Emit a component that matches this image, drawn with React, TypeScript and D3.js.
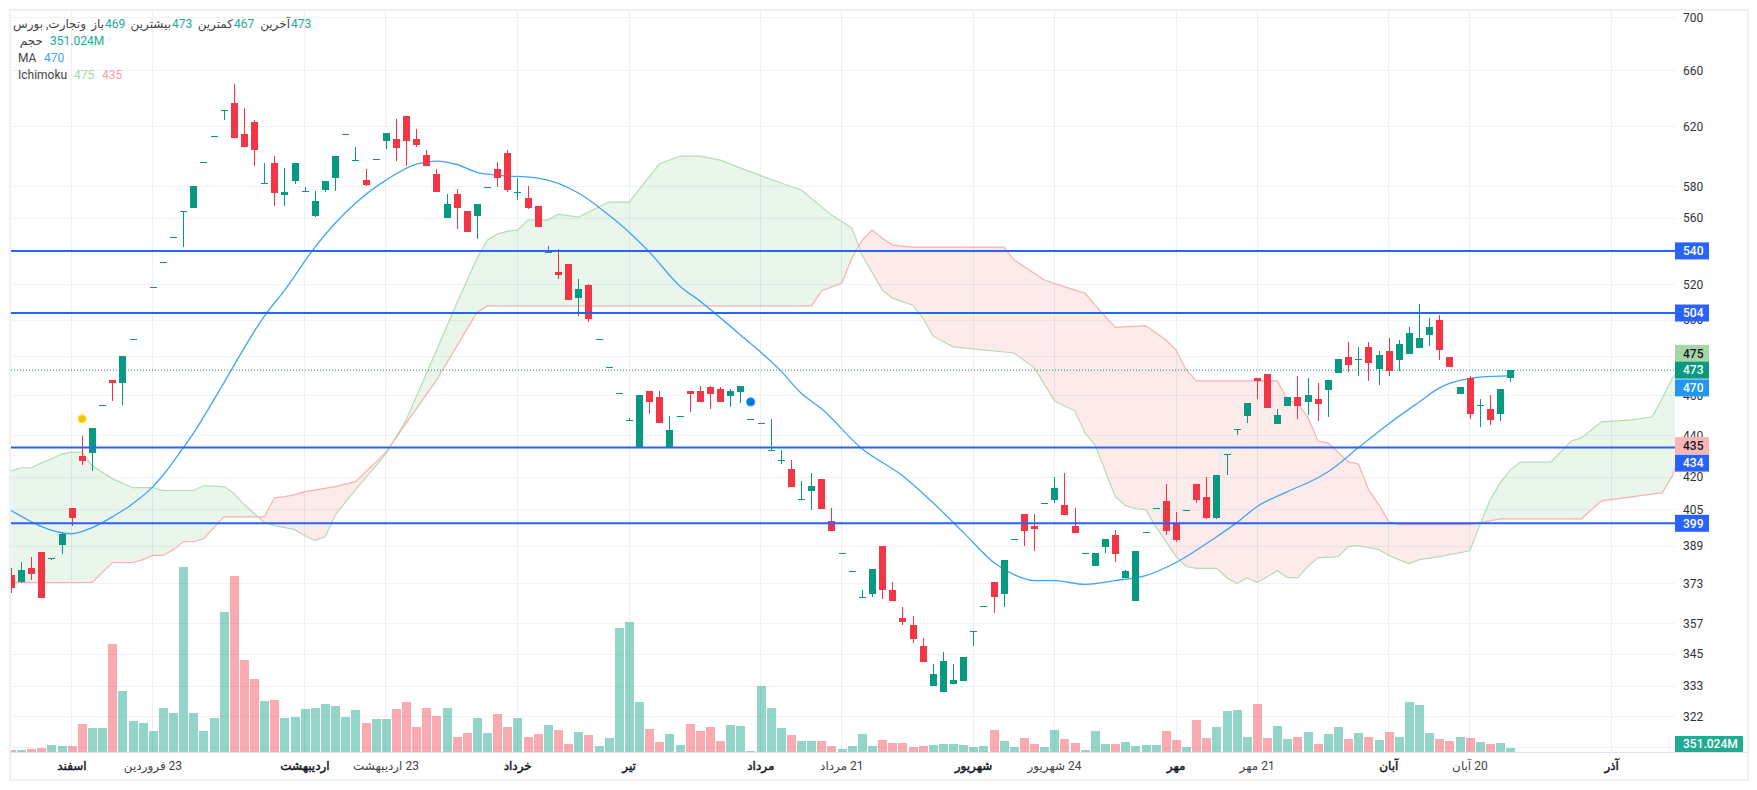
import React from 'react';
import * as d3 from 'd3';

const opens = [
  376.9,374,379.8,386.5,383.6,389.7,405.9,430,431.5,455,
  467.9,466.4,489.5,504,518.6,533.2,548.7,564.2,566.4,595.8,
  613.2,631.2,636.4,614.9,623,582.1,595.3,574.6,583.6,577.2,
  561.3,577.8,585.5,615.2,597.5,584.2,597.8,610.1,611.5,627.2,
  611.5,600.7,588.1,560,575.2,564.5,561.3,579.6,591.4,602,
  576.3,572.7,567.6,539.2,527.5,532.2,512.4,519.9,489.5,474.6,
  461,447.5,434.3,462.2,459.1,434.3,449.4,462.2,462.2,464.3,
  463.3,459.6,461.7,448,446,432.8,428,423.9,409.9,413.7,
  419.3,400.2,386,378.4,367.8,368.7,389.2,370.3,359.3,356.2,
  348,332.9,330.7,333.6,334.8,354,364.1,374,368.7,392.1,
  403.2,398,408.1,409.6,407.3,398,386,380.7,388.8,394,
  375.6,365.8,395.1,405.8,409.1,399.3,405,417,411,401.5,
  430.8,442.9,449.6,468.9,471,445.6,454.6,459.1,456.6,458.1,
  462.7,471.5,480,478.8,485.4,473.7,483.2,478.4,481.6,484.8,
  491.8,500.1,480,460.6,468.9,455,453.1,450.6,469,
];
const highs = [
  379.8,382.4,384.5,386.6,384,395.3,405.9,439.6,443.6,455,
  467.9,480.5,489.5,504,518.6,533.2,548.7,564.2,580.4,595.8,
  613.2,631.2,650,632.8,624.4,595.3,600,592,595.3,579.7,
  577.4,583.6,600,615.2,606,591.4,597.8,615.4,625.1,627.2,
  618.2,604,591.4,575.2,578.4,564.5,568.9,579.6,596,604,
  585.5,580.4,567.6,542.9,541.1,532.2,523.4,520.5,489.5,474.6,
  461,448.6,460.1,462.2,462.2,449.6,449.4,462.2,464.8,464.8,
  464.3,463.3,464.8,448,446,448.1,432.9,428.1,418.3,422,
  419.3,406,386,378.4,370.7,379.1,389.2,373.9,363.4,360.1,
  351.1,341.1,346,341.1,344.1,354,364.1,374,383.2,392.1,
  403.2,403.2,408.1,420.2,422.1,406,386,386.2,392.2,396.2,
  379,387,395.1,405.8,417,404.2,405,417,420.2,421,
  430.8,442.9,456.1,468.9,471,453.1,459.1,470,468.9,466.4,
  467.9,478.9,488,485.4,488,483.2,490.2,489.1,496.3,509,
  501.2,502.9,480,464.3,470,458.1,460.1,463.3,473,
];
const lows = [
  369.1,373.6,374.8,367.4,383.2,385.8,398,425.8,423,455,
  457.1,455.1,489.5,504,518.6,533.2,548.7,542.5,566.4,595.8,
  613.2,624.4,612.2,606,593.3,582.1,567.6,567.6,581.6,577.2,
  560.7,576.5,577.4,615.2,597.5,580.4,597.8,604.7,596.6,593.3,
  606,593.3,576.5,560,553.3,551.3,547.1,579.6,579.7,576.5,
  571.4,565.7,554.5,539.2,523.4,511.3,502.3,499,489.5,474.6,
  461,447.5,434.3,450.6,446.1,434.3,449.4,451.6,456.6,453.1,
  456.6,454.1,456.1,448,446,432.8,426.3,415.6,409.9,405.1,
  405.5,395.8,386,378.4,367.8,367.8,367,365.8,356.2,349.2,
  341.9,332.9,330.7,333.6,334.8,348,364.1,361.2,363.4,392.1,
  389.2,387,408.1,408.3,402.8,394.9,386,380.7,386.2,382,
  375.6,365.8,395.1,405.8,394,391,405,408.3,401,401,
  421,440.1,446.1,458.1,453.6,445.6,454.6,448.1,450.1,447.1,
  449.1,471.5,472,470,467.4,465.3,470,472.6,481.6,484.8,
  485.9,478.4,474.8,460.6,448.1,444.1,445.1,447.1,467,
];
const closes = [
  371.5,379,377.3,367.4,384,394.4,401.5,427.6,443.6,455,
  466.4,480.5,489.5,504,518.6,533.2,548.7,564.2,580.4,595.8,
  613.2,631.2,612.2,606,604,582.1,575.9,576.5,595.3,577.2,
  570.8,583.6,600,615.2,597.5,581,597.8,615.4,605.4,610.1,
  607.4,593.3,576.5,568.9,566.4,551.3,568.9,579.6,585.5,577.8,
  576.3,566.4,554.5,539.2,525.8,511.3,517.6,500.7,489.5,474.6,
  461,447.5,460.1,456.6,446.1,442.6,449.4,460.6,456.6,460.6,
  456.6,462.2,464.8,448,446,432.8,428,415.6,409.9,416,
  405.5,395.8,386,378.4,367.8,379.1,370.7,365.8,357.7,350.7,
  341.9,337.4,342.3,335.1,344.1,354,364.1,367.8,383.2,392.1,
  395.8,396.6,408.1,415.1,402.8,394.9,386,386.2,392.2,385.8,
  378.2,387,395.1,405.8,395.8,391.8,405,409.6,401.5,421,
  430.8,442.9,456.1,467.4,453.6,450.1,459.1,454.6,460.1,455.6,
  467.9,478.9,475.8,478.8,476.8,481.1,472.6,487,493,490.2,
  496.3,483.7,474.8,464.3,450.6,455,447.6,463.3,473,
];
// volume in millions
const volumes = [
  187,187,267,347,587,507,507,2267,1947,1947,
  8667,4907,2507,2347,1707,3547,3147,14827,3147,1707,
  2747,11227,14107,7387,5867,4107,4187,2747,2827,3467,
  3547,3867,3707,2827,3387,2347,2667,2667,3467,4027,
  2027,3547,2907,3547,1227,1547,2747,1547,3067,2027,
  2747,1227,1467,2187,1787,667,1627,1387,507,1147,
  9947,10427,4027,1867,827,1467,587,2267,1707,2027,
  907,2187,2107,107,5307,3547,1947,1387,907,907,
  907,507,267,507,1467,507,987,747,747,427,
  507,587,667,667,587,427,507,1787,907,427,
  1147,667,427,1787,1067,747,187,1707,667,667,
  827,507,587,587,1707,987,427,2587,1147,2027,
  3307,3387,1227,3867,1147,2107,1067,1227,1627,667,
  1467,2027,1067,1547,1227,987,1627,1227,4027,3787,
  1547,1067,907,1227,1147,827,667,747,351.024,
];

const maIndex = [0,2,3,6,8,10,12,14,15,17,18,20,21,25,27,30,32,34,37,40,42,44,46,48,52,56,59,61,63,66,68,72,76,78,80,84,88,91,94,97,99,101,103,106,109,112,115,119,121,123,126,129,130,133,136,139,141,143,145,148];
const maValues = [404.7,399.7,397.5,394.4,397.1,401.9,407.8,415.6,421,434,441,457.6,466.4,502.3,517,542.3,557,569.5,584.2,594.7,596.7,594.4,589.3,587.4,585.5,575.9,561.9,551.3,539.3,519.4,510.7,491.8,472.5,461,453.1,433.4,420.6,408.2,395,382,376.9,374.4,374.4,372.8,374.4,376.5,382,393.1,399.3,406.5,413.3,419.7,422.5,434,445.7,456.6,463.8,467.6,469.4,470];

const spanAIndex = [0,1,2,3,4,5,6,7,8,10,12,14,15,18,19,21,22,23,25,26,28,29,30,31,32,34,37,39,42,44,46,47,48,49,50,51,53,54,56,59,61,64,66,68,70,72,76,78,81,83,84,86,87,89,90,91,93,99,101,103,105,106,107,109,110,111,112,113,115,116,117,119,120,121,122,123,125,126,127,128,129,131,132,133,135,136,137,138,139,141,144,145,146,147,148,149,152,154,155,157,160,162,163,164,165];
const spanAValues = [422.9,424.4,424.4,426.7,428.6,430.9,431.8,431.8,425.3,419.3,415.1,415.1,413.8,413.8,416,415.6,412.4,407.4,399.3,398,396.2,393.5,391.4,393.1,402.8,414.2,431,447.6,483.7,509.6,535.8,546.5,550.2,552,552.6,558.8,558.8,562.5,560.7,570.1,570.1,594.7,600,600,597.3,592,582.3,577.8,561.9,553.9,537.5,517,512.4,508.4,501.2,491.2,485.4,482.1,474.2,457.1,452.1,441.1,435.3,411,406.9,405.6,405.1,397.5,384.5,380.3,379.5,379.5,375.6,373.2,375.6,373.6,378.5,375.6,375.6,380.3,384,384.5,388.8,389.2,387.5,385,383.2,381.5,383.2,384.5,387,398.4,409.6,417.4,423.4,427.1,427.1,437.2,438.7,446.6,447.6,449.1,458.6,468.9,475];
const spanBIndex = [0,8,10,12,13,14,15,16,17,18,19,21,25,26,27,28,29,32,34,37,42,46,47,79,80,81,82,83,84,85,86,87,89,98,99,102,105,106,107,109,112,114,115,116,117,125,126,127,128,129,130,132,133,134,135,136,137,144,147,155,157,163,164,165];
const spanBValues = [373.6,373.6,382,382,383.2,385,385,387.4,390.9,390.9,392.2,401.9,401.9,410.5,411,411.9,413.3,415.6,417.9,431.8,467.9,504.5,508,508,516.5,518.8,521.1,535.8,546.5,552.6,547.7,543.5,542.3,542.3,534.6,522.8,517,515.3,508.4,496,497,489.1,483.7,473.1,467.4,467.4,457.6,455.6,449.1,437.2,436.3,427.2,426.2,414.2,407.4,399.7,398.4,398.4,401,401,409.1,412.8,420.7,435];

const priceTicks = [700,660,620,580,560,540,520,500,480,460,440,420,405,389,373,357,345,333,322,311];
// these sit fully behind a tag in the reference
const hiddenLabels = [540,480,311];
const horizontalLevels = [540,504,434,399];
const lastPrice = 473;

const gridIndex = [6,14,29,37,50,61,74,82,95,103,115,123,136,144,158];
const monthIndex = [6,29,50,61,74,95,115,136,158];
const monthLabels = ['اسفند','اردیبهشت','خرداد','تیر','مرداد','شهریور','مهر','آبان','آذر'];
const dayIndex = [14,37,82,103,123,144];
const dayLabels = ['23 فروردین','23 اردیبهشت','21 مرداد','24 شهریور','21 مهر','20 آبان'];

const GREEN = '#089981';
const RED = '#f23645';
const BLUE = '#2962ff';
const MA_BLUE = '#42a5f5';
const VALUE_GREEN = '#22ab94';
const FONT = 'Roboto, "DejaVu Sans", sans-serif';

const plot = { left: 11, right: 1675, top: 11, bottom: 752 };

const x = d3.scaleLinear().domain([0, 148]).range([11.17, 1510.4]);
const y = d3.scaleLog().domain([700, 322]).range([17.3, 716.3]);
const vol = d3.scaleLinear().domain([0, 14827]).range([752, 566.7]);

const px = (i: number) => Math.round(x(i) - 0.2);

type Pt = [number, number];
const zip = (a: number[], b: number[]): Pt[] => a.map((v, i) => [v, b[i]]);
const maPts = zip(maIndex, maValues);
const spanA = zip(spanAIndex, spanAValues);
const spanB = zip(spanBIndex, spanBValues);

const line = d3.line<Pt>().x((d) => x(d[0])).y((d) => y(d[1]));
const smooth = d3.line<Pt>().x((d) => x(d[0])).y((d) => y(d[1])).curve(d3.curveMonotoneX);
const below = d3.area<Pt>().x((d) => x(d[0])).y0(plot.bottom).y1((d) => y(d[1]));
const above = d3.area<Pt>().x((d) => x(d[0])).y0(plot.top).y1((d) => y(d[1]));

const Tag = ({ value, text, fill, color, shift = 0 }: { value: number; text: string; fill: string; color: string; shift?: number }) => (
  <g>
    <rect x={1675} y={y(value) + shift - 8.5} width={34} height={17} fill={fill} />
    <text x={1683} y={y(value) + shift + 4.3} fill={color} fontSize={12} fontWeight={500}>{text}</text>
  </g>
);

export default function App() {
  return (
    <svg width={1757} height={790} viewBox="0 0 1757 790" fontFamily={FONT} style={{ position: 'absolute', left: 0, top: 0, display: 'block', background: '#fff' }}>
      <defs>
        <clipPath id="pane"><rect x={plot.left} y={plot.top} width={plot.right - plot.left} height={plot.bottom - plot.top} /></clipPath>
        <clipPath id="belowA"><path d={below(spanA) || ''} /></clipPath>
        <clipPath id="belowB"><path d={below(spanB) || ''} /></clipPath>
      </defs>

      {/* frame */}
      <rect x={10} y={10} width={1738} height={770} fill="none" stroke="#eff0f5" strokeWidth={2} />

      {/* grid */}
      <g stroke="#f0f2f5" strokeWidth={1} shapeRendering="crispEdges">
        {priceTicks.map((t) => <line key={t} x1={plot.left} x2={plot.right} y1={y(t)} y2={y(t)} />)}
        {gridIndex.map((i) => <line key={i} x1={x(i)} x2={x(i)} y1={plot.top} y2={plot.bottom} stroke="#eceef1" />)}
      </g>

      <g clipPath="url(#pane)">
        {/* volume */}
        <g shapeRendering="crispEdges">
          {volumes.map((v, i) => (
            <rect key={i} x={px(i) - 4} y={vol(v)} width={9} height={752 - vol(v)} fill={closes[i] >= opens[i] ? 'rgba(8,160,130,0.44)' : 'rgba(242,54,69,0.42)'} />
          ))}
        </g>

        {/* ichimoku cloud */}
        <g clipPath="url(#belowA)"><path d={above(spanB) || ''} fill="rgba(67,160,71,0.11)" /></g>
        <g clipPath="url(#belowB)"><path d={above(spanA) || ''} fill="rgba(239,83,80,0.12)" /></g>
        <path d={line(spanA) || ''} fill="none" stroke="#b5dcb6" strokeWidth={1.2} />
        <path d={line(spanB) || ''} fill="none" stroke="#f9b0b0" strokeWidth={1.2} />

        {/* moving average */}
        <path d={smooth(maPts) || ''} fill="none" stroke={MA_BLUE} strokeWidth={1.3} />

        {/* candles */}
        <g shapeRendering="crispEdges">
          {opens.map((o, i) => {
            const c = closes[i];
            const color = c >= o ? GREEN : RED;
            const top = Math.round(y(Math.max(o, c)));
            const bot = Math.round(y(Math.min(o, c)));
            const hi = Math.round(y(highs[i]));
            const lo = Math.round(y(lows[i]));
            return (
              <g key={i} fill={color}>
                <rect x={px(i)} y={hi} width={1} height={Math.max(lo - hi, 1)} />
                <rect x={px(i) - 3} y={top} width={7} height={Math.max(bot - top, 1)} />
              </g>
            );
          })}
        </g>

        {/* markers */}
        <circle cx={x(7)} cy={y(448.1)} r={4} fill="#f7c600" stroke="#ffe24d" strokeWidth={1.2} />
        <circle cx={x(73)} cy={y(456.6)} r={4} fill="#0077e6" stroke="#2a9df4" strokeWidth={1.2} />

        {/* price lines */}
        <line x1={plot.left} x2={plot.right} y1={y(lastPrice)} y2={y(lastPrice)} stroke={GREEN} strokeWidth={1} strokeDasharray="1 2" />
        {horizontalLevels.map((l) => (
          <line key={l} x1={plot.left} x2={plot.right} y1={y(l)} y2={y(l)} stroke={BLUE} strokeWidth={2} />
        ))}
      </g>

      {/* bottom line */}
      <line x1={10} x2={1748} y1={752.5} y2={752.5} stroke="#e0e3eb" strokeWidth={1.2} />

      {/* price axis */}
      <g fontSize={12} fill="#333">
        {priceTicks.filter((t) => !hiddenLabels.includes(t)).map((t) => <text key={t} x={1683} y={y(t) + 4.3}>{t}</text>)}
      </g>
      <Tag value={540} text="540" fill={BLUE} color="#fff" />
      <Tag value={504} text="504" fill={BLUE} color="#fff" />
      <Tag value={475} text="475" fill="#a5d6a7" color="#131722" shift={-13} />
      <Tag value={473} text="473" fill={GREEN} color="#fff" />
      <Tag value={470} text="470" fill="#2196f3" color="#fff" shift={12} />
      <Tag value={435} text="435" fill="#f9b6b6" color="#131722" />
      <Tag value={434} text="434" fill={BLUE} color="#fff" shift={15.5} />
      <Tag value={399} text="399" fill={BLUE} color="#fff" />
      <rect x={1675} y={736} width={68} height={16} fill={VALUE_GREEN} />
      <text x={1683} y={748.3} fill="#fff" fontSize={12} fontWeight={500}>351.024M</text>

      {/* time axis */}
      <g fontSize={12} textAnchor="middle" style={{ direction: 'rtl' }}>
        {monthIndex.map((i, k) => <text key={i} x={x(i)} y={770} fill="#131722" stroke="#131722" strokeWidth={0.45}>{monthLabels[k]}</text>)}
        {dayIndex.map((i, k) => <text key={i} x={x(i)} y={770} fill="#444">{dayLabels[k]}</text>)}
      </g>

      {/* legend */}
      <g fontSize={12} fill="#444">
        <text x={86} y={28} textAnchor="end">وتجارت, بورس</text>
        <text x={104} y={28} textAnchor="end">باز</text>
        <text x={105} y={28} fill={VALUE_GREEN}>469</text>
        <text x={171} y={28} textAnchor="end">بیشترین</text>
        <text x={172} y={28} fill={VALUE_GREEN}>473</text>
        <text x={233} y={28} textAnchor="end">کمترین</text>
        <text x={234} y={28} fill={VALUE_GREEN}>467</text>
        <text x={290} y={28} textAnchor="end">آخرین</text>
        <text x={291} y={28} fill={VALUE_GREEN}>473</text>
        <text x={43} y={45} textAnchor="end">حجم</text>
        <text x={50} y={45} fill={VALUE_GREEN}>351.024M</text>
        <text x={18} y={62}>MA</text>
        <text x={44} y={62} fill={MA_BLUE}>470</text>
        <text x={18} y={79}>Ichimoku</text>
        <text x={74} y={79} fill="#a5d6a7">475</text>
        <text x={102} y={79} fill="#faa1a4">435</text>
      </g>
    </svg>
  );
}
